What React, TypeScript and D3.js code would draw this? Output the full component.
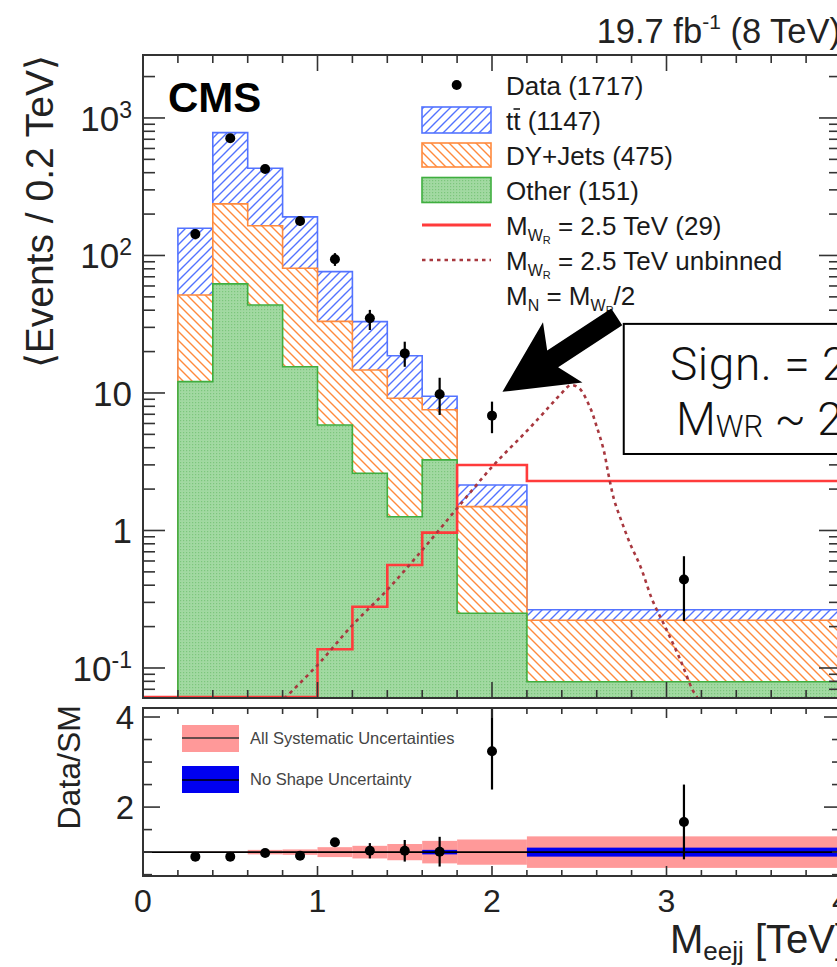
import React from 'react';
import * as d3 from 'd3';

// histogram bins (TeV) and stacked backgrounds, events / 0.2 TeV
const binEdges = [0.2, 0.4, 0.6, 0.8, 1.0, 1.2, 1.4, 1.6, 1.8, 2.2, 4.0];
const otherVals = [12.1, 62.1, 43.6, 15.5, 5.85, 2.61, 1.26, 3.26, 0.25, 0.0795];
const dyVals = [39.5, 175, 121, 65.2, 27.3, 12.1, 7.9, 4.3, 1.24, 0.143];
const ttVals = [106, 545, 266, 110, 43.1, 18.3, 9.5, 1.9, 0.65, 0.043];

// signal M_WR = 2.5 TeV, binned
const sigEdges = [0, 0.2, 0.4, 0.6, 0.8, 1.0, 1.2, 1.4, 1.6, 1.8, 2.2, 4.0];
const sigVals = [0, 0, 0, 0, 0, 0.137, 0.279, 0.561, 0.964, 2.99, 2.29];

// signal unbinned curve
const unbX = [0.81, 1.0, 1.2, 1.4, 1.6, 1.8, 2.0, 2.2, 2.33, 2.4, 2.45, 2.5, 2.56, 2.6, 2.64, 2.67, 2.7, 2.74, 2.79, 2.85, 2.92, 3.0, 3.08, 3.15, 3.18];
const unbY = [0.06, 0.105, 0.205, 0.37, 0.72, 1.45, 2.9, 5.3, 8.0, 10.0, 11.4, 10.8, 7.95, 5.7, 3.85, 2.46, 1.67, 1.19, 0.81, 0.55, 0.31, 0.19, 0.114, 0.069, 0.06];

// data
const dataX = [0.3, 0.5, 0.7, 0.9, 1.1, 1.3, 1.5, 1.7, 2.0, 3.1];
const dataY = [143, 711, 426, 178, 93.8, 34.9, 19.4, 9.8, 6.84, 0.44];
const dataLo = [131, 684, 405, 165, 84, 28.7, 15.5, 6.92, 5.1, 0.22];
const dataHi = [155, 738, 447, 191, 104, 40.2, 23.6, 12.9, 8.65, 0.65];

// ratio panel
const ratioY = [0.9, 0.9, 0.98, 0.92, 1.22, 1.03, 1.03, 1.01, 3.24, 1.67];
const ratioLo = [0.88, 0.89, 0.96, 0.9, 1.2, 0.86, 0.79, 0.68, 2.39, 0.84];
const ratioHi = [0.92, 0.91, 1.0, 0.94, 1.24, 1.2, 1.27, 1.34, 4.4, 2.5];
const sysUnc = [0.01, 0.01, 0.05, 0.06, 0.11, 0.14, 0.18, 0.25, 0.28, 0.35];
const shapeUnc = [0, 0, 0, 0, 0, 0, 0, 0.05, 0, 0.1];

const yTickLabels = [
  { v: 0.1, base: '10', sup: '-1' },
  { v: 1, base: '1', sup: '' },
  { v: 10, base: '10', sup: '' },
  { v: 100, base: '10', sup: '2' },
  { v: 1000, base: '10', sup: '3' },
];
const xTickLabels = [0, 1, 2, 3, 4];
const ratioTickLabels = [2, 4];

const W = 837, H = 967;
const L = 143, R = 841;
const mainTop = 55, mainBot = 698;
const ratTop = 708, ratBot = 876;
const FONT = "'Liberation Sans', Arial, Helvetica, sans-serif";

const x = d3.scaleLinear().domain([0, 4]).range([L, R]);
const yMain = d3.scaleLog().domain([0.0605, 2870]).range([mainBot, mainTop]);
const yRat = d3.scaleLinear().domain([0.47, 4.2]).range([ratBot, ratTop]);

const yc = (v: number) => (v > 0.0605 ? yMain(v) : mainBot - 1);

function histPath(edges: number[], vals: number[], closed: boolean) {
  let p = closed ? `M${x(edges[0])},${mainBot}` : `M${x(edges[0])},${yc(vals[0])}`;
  vals.forEach((v, i) => {
    p += `L${x(edges[i])},${yc(v)}L${x(edges[i + 1])},${yc(v)}`;
  });
  if (closed) p += `L${x(edges[edges.length - 1])},${mainBot}Z`;
  return p;
}

const BLUE = '#5373ff';
const ORANGE = '#ff8a3d';
const GREEN = '#3fae3f';
const RED = '#ff3b3b';
const DRED = '#a8383f';

function Frame({ top, bot, yTicks, yMajor, yMajLen, yMinLen, xMajLen, xMinLen }: any) {
  const xt = d3.range(0, 4.0001, 0.2);
  return (
    <g stroke="#333" strokeWidth={1.6}>
      {xt.map((t, i) => {
        const maj = Math.abs(t - Math.round(t)) < 1e-6;
        const len = maj ? xMajLen : xMinLen;
        return (
          <g key={i}>
            <line x1={x(t)} x2={x(t)} y1={top} y2={top + len} />
            <line x1={x(t)} x2={x(t)} y1={bot} y2={bot - len} />
          </g>
        );
      })}
      {yTicks.map((t: any, i: number) => {
        const len = yMajor(t.v) ? yMajLen : yMinLen;
        return (
          <g key={'y' + i}>
            <line x1={L} x2={L + len} y1={t.y} y2={t.y} />
            <line x1={R} x2={R - len} y1={t.y} y2={t.y} />
          </g>
        );
      })}
      <rect x={L} y={top} width={R - L} height={bot - top} fill="none" strokeWidth={2} />
    </g>
  );
}

export default function App() {
  const totalVals = ttVals.map((t, i) => t + dyVals[i] + otherVals[i]);
  const dyStack = dyVals.map((d, i) => d + otherVals[i]);

  const unbLine = d3
    .line<number>()
    .x((_, i) => x(unbX[i]))
    .y((d) => yMain(d))
    .curve(d3.curveCatmullRom.alpha(0.5))(unbY) as string;

  const mainTicks = yMain.ticks().map((v) => ({ v, y: yMain(v) }));
  const isPow10 = (v: number) => Math.abs(Math.log10(v) - Math.round(Math.log10(v))) < 1e-6;
  const ratTicks = d3.range(0.5, 4.2, 0.5).map((v) => ({ v, y: yRat(v) }));
  const ratMajor = (v: number) => Math.abs(v % 2) < 1e-6;

  // annotation arrow geometry (tip / tail in data coordinates)
  const tip = [x(2.06), yMain(10.2)];
  const tail = [x(2.715), yMain(35.7)];
  const dx = tail[0] - tip[0], dy = tail[1] - tip[1];
  const len = Math.hypot(dx, dy);
  const u = [dx / len, dy / len];
  const n = [-u[1], u[0]];
  const pt = (a: number, b: number) => `${tip[0] + u[0] * a + n[0] * b},${tip[1] + u[1] * a + n[1] * b}`;
  const arrow = [pt(0, 0), pt(72, 36), pt(60, 10), pt(len, 10), pt(len, -10), pt(60, -10), pt(72, -36)].join(' ');

  const legRows = [85, 120, 155, 190, 225, 260, 295];
  const legX = 506;
  const boxX0 = 422, boxX1 = 491;

  return (
    <svg width={W} height={H} style={{ position: 'absolute', left: 0, top: 0, background: '#fff' }} fontFamily={FONT}>
      <defs>
        <pattern id="hBlue" patternUnits="userSpaceOnUse" width={9} height={9}>
          <rect width={9} height={9} fill="#fff" />
          <path d="M-1,1 L1,-1 M0,9 L9,0 M8,10 L10,8" stroke={BLUE} strokeWidth={1.4} />
        </pattern>
        <pattern id="hOrange" patternUnits="userSpaceOnUse" width={9} height={9}>
          <rect width={9} height={9} fill="#fff" />
          <path d="M-1,8 L1,10 M0,0 L9,9 M8,-1 L10,1" stroke={ORANGE} strokeWidth={1.4} />
        </pattern>
        <pattern id="dGreen" patternUnits="userSpaceOnUse" width={3} height={3}>
          <rect width={3} height={3} fill="#a2d9a2" />
          <rect width={1.2} height={1.2} fill="#7cc67c" />
        </pattern>
        <clipPath id="clipMain">
          <rect x={L} y={mainTop} width={R - L} height={mainBot - mainTop} />
        </clipPath>
        <clipPath id="clipRat">
          <rect x={L} y={ratTop} width={R - L} height={ratBot - ratTop} />
        </clipPath>
      </defs>

      {/* ---------- main panel ---------- */}
      <g clipPath="url(#clipMain)">
        <path d={histPath(binEdges, totalVals, true)} fill="url(#hBlue)" stroke={BLUE} strokeWidth={1.6} />
        <path d={histPath(binEdges, dyStack, true)} fill="url(#hOrange)" stroke={ORANGE} strokeWidth={1.6} />
        <path d={histPath(binEdges, otherVals, true)} fill="url(#dGreen)" stroke={GREEN} strokeWidth={1.6} />
        <path d={histPath(sigEdges, sigVals, false)} fill="none" stroke={RED} strokeWidth={2.6} />
        <path d={unbLine} fill="none" stroke={DRED} strokeWidth={2.6} strokeDasharray="3.5,4" />
        {dataX.map((d, i) => (
          <g key={i}>
            <line x1={x(d)} x2={x(d)} y1={yMain(dataLo[i])} y2={yMain(dataHi[i])} stroke="#000" strokeWidth={2.2} />
            <circle cx={x(d)} cy={yMain(dataY[i])} r={5} fill="#000" />
          </g>
        ))}
      </g>
      <Frame top={mainTop} bot={mainBot} yTicks={mainTicks} yMajor={isPow10} yMajLen={22} yMinLen={12} xMajLen={16} xMinLen={8} />

      {yTickLabels.map((t, i) => (
        <text key={i} x={132} y={yMain(t.v) + 13} textAnchor="end" fontSize={35} fill="#222">
          <tspan>{t.base}</tspan>
          {t.sup && (
            <tspan dy={-13} fontSize={23}>
              {t.sup}
            </tspan>
          )}
        </text>
      ))}
      <text transform={`translate(53,${mainTop}) rotate(-90)`} textAnchor="end" fontSize={39} fill="#222">
        ⟨Events / 0.2 TeV⟩
      </text>

      {/* CMS and lumi */}
      <text x={168} y={112} fontSize={42} fontWeight="bold" fill="#000">CMS</text>
      <text x={R} y={43} textAnchor="end" fontSize={34.5} fill="#222">
        <tspan>19.7 fb</tspan>
        <tspan dy={-14} fontSize={21}>-1</tspan>
        <tspan dy={14}> (8 TeV)</tspan>
      </text>

      {/* legend */}
      <g fontSize={26} fill="#1a1a1a">
        <circle cx={456.7} cy={legRows[0]} r={5} fill="#000" />
        <text x={legX} y={legRows[0] + 9.5}>Data (1717)</text>

        <rect x={boxX0} y={legRows[1] - 13} width={boxX1 - boxX0} height={26} fill="url(#hBlue)" stroke={BLUE} strokeWidth={1.6} />
        <text x={legX} y={legRows[1] + 9.5}>tt (1147)</text>
        <line x1={513.5} x2={520} y1={legRows[1] - 11} y2={legRows[1] - 11} stroke="#1a1a1a" strokeWidth={1.6} />

        <rect x={boxX0} y={legRows[2] - 12} width={boxX1 - boxX0} height={24} fill="url(#hOrange)" stroke={ORANGE} strokeWidth={1.6} />
        <text x={legX} y={legRows[2] + 9.5}>DY+Jets (475)</text>

        <rect x={boxX0} y={legRows[3] - 12.5} width={boxX1 - boxX0} height={25} fill="url(#dGreen)" stroke={GREEN} strokeWidth={1.6} />
        <text x={legX} y={legRows[3] + 9.5}>Other (151)</text>

        <line x1={boxX0} x2={boxX1} y1={legRows[4]} y2={legRows[4]} stroke={RED} strokeWidth={3} />
        <text x={legX} y={legRows[4] + 9.5}>
          <tspan>M</tspan>
          <tspan dy={6} fontSize={16}>W</tspan>
          <tspan dy={3} fontSize={11}>R</tspan>
          <tspan dy={-9}> = 2.5 TeV (29)</tspan>
        </text>

        <line x1={boxX0} x2={boxX1} y1={legRows[5]} y2={legRows[5]} stroke={DRED} strokeWidth={2.6} strokeDasharray="3.5,4" />
        <text x={legX} y={legRows[5] + 9.5}>
          <tspan>M</tspan>
          <tspan dy={6} fontSize={16}>W</tspan>
          <tspan dy={3} fontSize={11}>R</tspan>
          <tspan dy={-9}> = 2.5 TeV unbinned</tspan>
        </text>

        <text x={legX} y={legRows[6] + 9.5}>
          <tspan>M</tspan>
          <tspan dy={6} fontSize={16}>N</tspan>
          <tspan dy={-6}> = M</tspan>
          <tspan dy={6} fontSize={16}>W</tspan>
          <tspan dy={3} fontSize={11}>R</tspan>
          <tspan dy={-9}>/2</tspan>
        </text>
      </g>

      {/* annotation */}
      <rect x={x(2.755)} y={yMain(31.8)} width={400} height={yMain(3.6) - yMain(31.8)} fill="#fff" stroke="#000" strokeWidth={2} />
      <polygon points={arrow} fill="#000" />
      <g fontFamily="Roboto, 'Open Sans', sans-serif" fontWeight={300} fill="#111">
        <text x={670} y={380} fontSize={46} letterSpacing={0.6}>Sign. = 2.8σ</text>
        <text x={676} y={435} fontSize={46}>
          <tspan>M</tspan>
          <tspan dy={2} fontSize={31}>WR</tspan>
          <tspan dy={-2}> ~ 2 TeV</tspan>
        </text>
      </g>

      {/* ---------- ratio panel ---------- */}
      <g clipPath="url(#clipRat)">
        {sysUnc.map((s, i) => (
          <rect key={'s' + i} x={x(binEdges[i])} width={x(binEdges[i + 1]) - x(binEdges[i])} y={yRat(1 + s)} height={yRat(1 - s) - yRat(1 + s)} fill="#ff9999" />
        ))}
        {shapeUnc.map((s, i) =>
          s > 0 ? (
            <rect key={'b' + i} x={x(binEdges[i])} width={x(binEdges[i + 1]) - x(binEdges[i])} y={yRat(1 + s)} height={yRat(1 - s) - yRat(1 + s)} fill="#0000f0" />
          ) : null
        )}
        <line x1={L} x2={R} y1={yRat(1)} y2={yRat(1)} stroke="#000" strokeWidth={1.6} />
        {dataX.map((d, i) => (
          <g key={i}>
            <line x1={x(d)} x2={x(d)} y1={yRat(ratioLo[i])} y2={yRat(ratioHi[i])} stroke="#000" strokeWidth={2.2} />
            <circle cx={x(d)} cy={yRat(ratioY[i])} r={5} fill="#000" />
          </g>
        ))}
      </g>
      <Frame top={ratTop} bot={ratBot} yTicks={ratTicks} yMajor={ratMajor} yMajLen={17} yMinLen={9} xMajLen={10} xMinLen={6} />

      {/* ratio legend */}
      <g fontSize={16.5} fill="#444">
        <rect x={182} y={725} width={57} height={27} fill="#ff9999" />
        <line x1={182} x2={239} y1={738} y2={738} stroke="#333" strokeWidth={1.5} />
        <text x={250} y={744}>All Systematic Uncertainties</text>
        <rect x={182} y={766} width={57} height={27} fill="#0000f0" />
        <line x1={182} x2={239} y1={780} y2={780} stroke="#000" strokeWidth={1.5} />
        <text x={250} y={785}>No Shape Uncertainty</text>
      </g>

      {ratioTickLabels.map((v) => (
        <text key={v} x={134} y={yRat(v) + 12} textAnchor="end" fontSize={33} fill="#222">{v}</text>
      ))}
      <text transform={`translate(80,705) rotate(-90)`} textAnchor="end" fontSize={32} fill="#222">Data/SM</text>

      {/* x axis */}
      {xTickLabels.map((v) => (
        <text key={v} x={x(v)} y={912} textAnchor="middle" fontSize={32} fill="#222">{v}</text>
      ))}
      <text x={670} y={953} fontSize={40} fill="#222">
        <tspan>M</tspan>
        <tspan dy={7} fontSize={26}>eejj</tspan>
        <tspan dy={-7}> [TeV]</tspan>
      </text>
    </svg>
  );
}
